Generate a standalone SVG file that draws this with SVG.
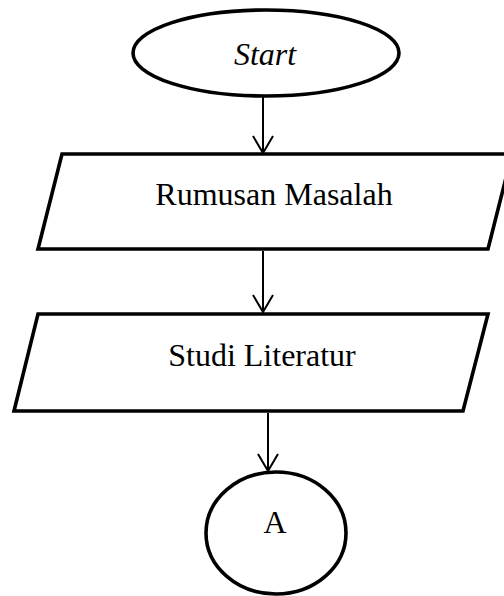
<svg xmlns="http://www.w3.org/2000/svg" width="504" height="596" viewBox="0 0 504 596">
<style>
.shape{fill:#fff;stroke:#000;stroke-width:3.6;stroke-linejoin:miter}
.lbl{font-family:"Liberation Serif","Times New Roman",serif;font-size:32px;fill:#000;text-anchor:middle}
.conn{stroke:#000;stroke-width:2;fill:none;marker-end:url(#arr)}
</style>
<defs>
<marker id="arr" markerUnits="userSpaceOnUse" markerWidth="20" markerHeight="24" refX="18" refY="12" orient="auto" viewBox="0 0 20 24">
<path d="M1,2 L18,12 L1,22" fill="none" stroke="#000" stroke-width="2"/>
</marker>
</defs>
<rect width="504" height="596" fill="#fff"/>
<g id="connectors">
<line class="conn" x1="263" y1="97" x2="263" y2="153"/>
<line class="conn" x1="263" y1="251" x2="263" y2="312"/>
<line class="conn" x1="268" y1="413" x2="268" y2="471"/>
</g>
<g id="start">
<ellipse class="shape" cx="266" cy="53" rx="133" ry="43"/>
<text class="lbl" x="265" y="65" font-style="italic" font-size="31">Start</text>
</g>
<g id="rumusan">
<polygon class="shape" points="62,154 512,154 488,249 38,249"/>
<text class="lbl" x="274" y="205">Rumusan Masalah</text>
</g>
<g id="studi">
<polygon class="shape" points="38,314 488,314 463,411 14,411"/>
<text class="lbl" x="262" y="366">Studi Literatur</text>
</g>
<g id="a">
<ellipse class="shape" cx="276" cy="533" rx="70" ry="61"/>
<text class="lbl" x="275" y="533" font-size="31">A</text>
</g>
</svg>
